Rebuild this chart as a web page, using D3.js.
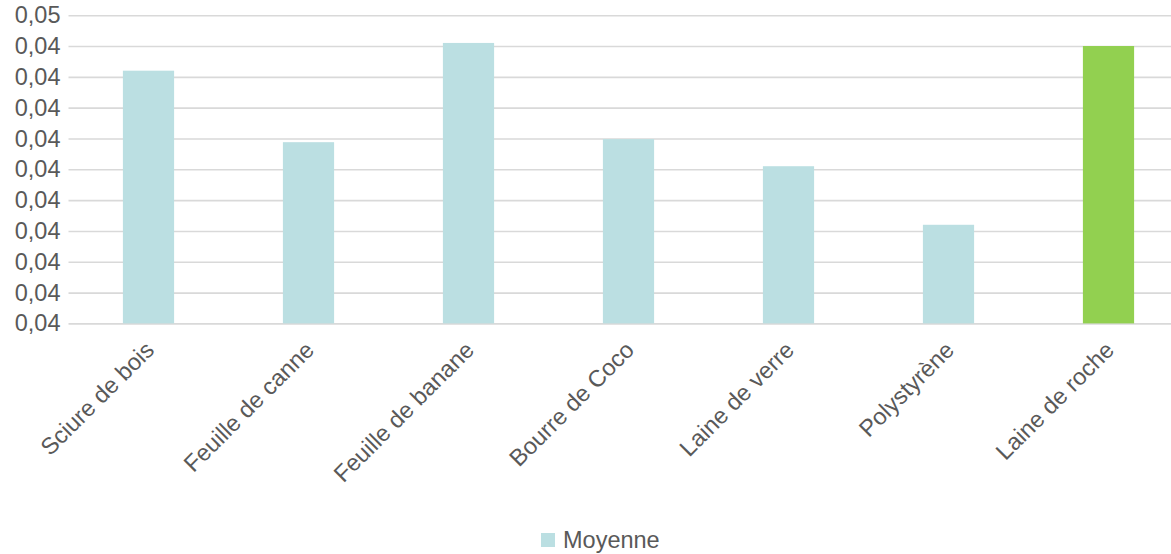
<!DOCTYPE html>
<html>
<head>
<meta charset="utf-8">
<script src="https://cdn.jsdelivr.net/npm/d3@7"></script>
<style>
  html, body { margin: 0; padding: 0; background: #fff; }
  svg { display: block; }
  text { font-family: "Liberation Sans", Arial, sans-serif; fill: #595959; }
</style>
</head>
<body>
<svg id="chart" width="1171" height="554"></svg>
<script>
// Materials and their mean values
const categories = ["Sciure de bois", "Feuille de canne", "Feuille de banane", "Bourre de Coco", "Laine de verre", "Polystyrène", "Laine de roche"];
const moyenne = [0.04460, 0.04344, 0.04505, 0.04349, 0.04305, 0.04210, 0.04500];
const highlighted = ["Laine de roche"];

// Value axis: ticks and their displayed labels (two decimals, French comma)
const yTicks = [0.0405, 0.0410, 0.0415, 0.0420, 0.0425, 0.0430, 0.0435, 0.0440, 0.0445, 0.0450, 0.0455];
const yTickLabels = ["0,04", "0,04", "0,04", "0,04", "0,04", "0,04", "0,04", "0,04", "0,04", "0,04", "0,05"];
const legendLabel = "Moyenne";

const colBar = "#bbdfe2";
const colHighlight = "#92d050";
const colGrid = "#d9d9d9";
const fontSize = "23.5px";

const svg = d3.select("#chart");

const plot = { left: 68.5, right: 1188.5, top: 15.2, bottom: 323.4 };

const x = d3.scaleBand()
  .domain(categories)
  .range([plot.left, plot.right])
  .paddingInner(0.68)
  .paddingOuter(0.34);

const y = d3.scaleLinear()
  .domain([yTicks[0], yTicks[yTicks.length - 1]])
  .range([plot.bottom, plot.top]);

// Horizontal gridlines with value labels
const yAxis = d3.axisLeft(y)
  .tickValues(yTicks)
  .tickSize(-(plot.right - plot.left))
  .tickPadding(8)
  .tickFormat((d, i) => yTickLabels[i]);

const gy = svg.append("g")
  .attr("transform", `translate(${plot.left},0)`)
  .call(yAxis);
gy.select(".domain").remove();
gy.selectAll(".tick line").attr("stroke", colGrid).attr("stroke-width", 1.6);
gy.selectAll(".tick text")
  .attr("x", -8)
  .style("font-size", fontSize)
  .style("font-family", "'Liberation Sans', Arial, sans-serif")
  .attr("fill", "#595959");

// Bars
svg.append("g")
  .selectAll("rect")
  .data(categories)
  .join("rect")
  .attr("x", d => x(d))
  .attr("width", x.bandwidth())
  .attr("y", (d, i) => y(moyenne[i]))
  .attr("height", (d, i) => plot.bottom - y(moyenne[i]))
  .attr("fill", d => highlighted.includes(d) ? colHighlight : colBar);

// Category labels, rotated
const xAxis = d3.axisBottom(x).tickSize(0).tickPadding(0);
const gx = svg.append("g")
  .attr("transform", `translate(0,${plot.bottom})`)
  .call(xAxis);
gx.select(".domain").remove();
gx.selectAll(".tick text")
  .attr("text-anchor", "end")
  .attr("dy", 0)
  .attr("transform", "translate(7,28) rotate(-45)")
  .style("font-size", fontSize)
  .style("font-family", "'Liberation Sans', Arial, sans-serif")
  .attr("fill", "#595959");

// Legend
const legend = svg.append("g").attr("transform", "translate(541,533)");
legend.append("rect").attr("width", 14).attr("height", 14).attr("fill", colBar);
legend.append("text")
  .attr("x", 22).attr("y", 15)
  .style("font-size", fontSize)
  .text(legendLabel);
</script>
</body>
</html>
